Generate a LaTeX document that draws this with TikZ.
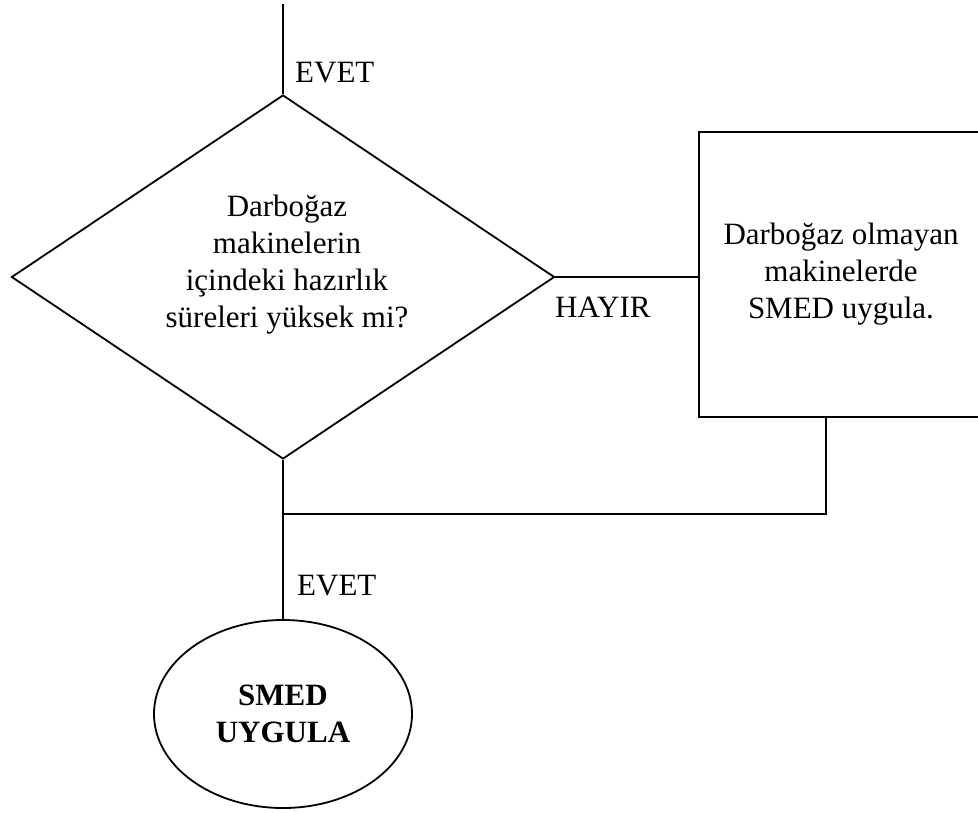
\documentclass[tikz,border=0pt]{standalone}
\usepackage{fontspec}
\setmainfont{Liberation Serif}
\usetikzlibrary{shapes.geometric}
\begin{document}
\begin{tikzpicture}[x=1pt,y=-1pt,
  every node/.style={font=\fontsize{31}{37}\selectfont},
  flow/.style={line width=1.8pt},
  decision/.style={diamond,draw,line width=1.8pt,inner sep=0pt,
    minimum width=543pt,minimum height=364pt},
  process/.style={rectangle,draw,line width=1.8pt,align=center,
    minimum width=284pt,minimum height=285pt},
  terminal/.style={ellipse,draw,line width=1.8pt,align=center,
    minimum width=258pt,minimum height=188pt,
    font=\fontsize{31}{37}\selectfont\bfseries},
  txt/.style={align=center,inner sep=0pt},
  tag/.style={anchor=base west,inner sep=0pt}]
\useasboundingbox (0,0) rectangle (978,812);
\clip (0,0) rectangle (978,812);

% shapes
\coordinate (start) at (283,4);
\node[decision] (dec) at (283,277) {};
\node[txt] (dectext) at (287,265) {Darboğaz\\makinelerin\\içindeki hazırlık\\süreleri yüksek mi?};
\node[process] (proc) at (841,274.5) {Darboğaz olmayan\\makinelerde\\SMED uygula.};
\node[terminal] (term) at (283,714) {SMED\\UYGULA};
\coordinate (join) at (283,514);

% connectors
\draw[flow] (start) -- (dec.north);
\draw[flow] (dec.east) -- (dec.east -| proc.west);
\draw[flow] ([xshift=-15pt]proc.south) |- (join);
\draw[flow] (dec.south) -- (term.north);

% branch labels
\node[tag] (yes1) at (295,82) {EVET};
\node[tag] (no) at (555,317) {HAYIR};
\node[tag] (yes2) at (297,595) {EVET};
\end{tikzpicture}
\end{document}
